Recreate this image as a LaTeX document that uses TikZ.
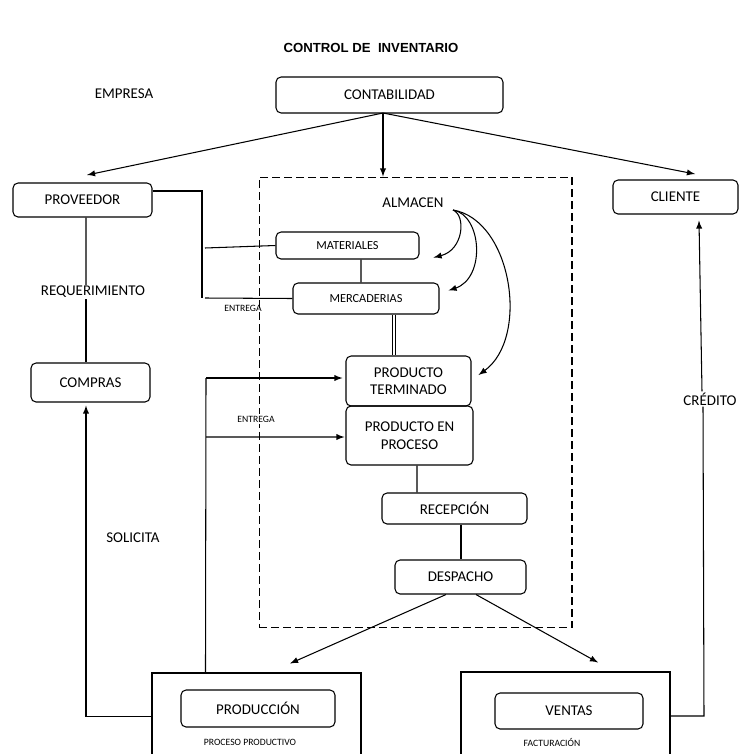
\documentclass[tikz,border=0pt]{standalone}
\usepackage{fontspec}
\setmainfont{Carlito}
\newfontfamily\titlefont{Liberation Sans}
\usetikzlibrary{calc}

\begin{document}
\begin{tikzpicture}[x=0.02cm,y=-0.02cm,line width=0.6pt,>=latex,
    box/.style={draw,rounded corners=1mm,inner sep=0pt,align=center,font=\fontsize{8.5}{10}\selectfont},
    smallbox/.style={box,font=\fontsize{7}{8}\selectfont},
    area/.style={draw,inner sep=0pt},
    lbl/.style={inner sep=1pt,font=\fontsize{8.5}{10}\selectfont},
    tiny/.style={inner sep=1pt,font=\fontsize{5.5}{6}\selectfont}]

\useasboundingbox (0,0) rectangle (740,754);
\clip (0,0) rectangle (740,754);

% titulo y textos sueltos
  \node (title) at (371,48) {\titlefont\bfseries\fontsize{7.5}{9}\selectfont CONTROL DE~ INVENTARIO};
  \node[lbl] (empresa) at (124,94) {EMPRESA};

% cajas
  \node[box,minimum width=45.4mm,minimum height=7.2mm] (conta) at (389.5,95) {CONTABILIDAD};
  \node[box,minimum width=27.8mm,minimum height=6.8mm] (prov) at (82.5,200) {PROVEEDOR};
  \node[box,minimum width=25mm,minimum height=6.8mm] (cliente) at (675.5,197) {CLIENTE};
  \node[box,minimum width=23.8mm,minimum height=7.8mm] (compras) at (90.5,382.5) {COMPRAS};
  \node[area,dashed,dash pattern=on 1.6mm off 0.8mm,minimum width=62.6mm,minimum height=90.2mm] (alm) at (415.5,402.5) {};
  \node[lbl] (almt) at (413,203) {ALMACEN};
  \node[smallbox,minimum width=28.6mm,minimum height=5.4mm] (mat) at (347.5,245.5) {MATERIALES};
  \node[smallbox,minimum width=29.2mm,minimum height=6.2mm] (merc) at (366,298.5) {MERCADERIAS};
  \node[box,minimum width=25mm,minimum height=10mm] (pterm) at (408.5,381) {PRODUCTO\\TERMINADO};
  \node[box,minimum width=25.4mm,minimum height=11.8mm] (pproc) at (409.5,435.5) {PRODUCTO EN\\PROCESO};
  \node[box,minimum width=29mm,minimum height=6.2mm] (recep) at (454.5,508.5) {RECEPCIÓN};
  \node[box,minimum width=26.2mm,minimum height=6.8mm] (desp) at (460.5,577) {DESPACHO};
  \node[area,minimum width=41.8mm,minimum height=25.4mm] (prodarea) at (256.5,736.5) {};
  \node[area,minimum width=41.8mm,minimum height=25.6mm] (ventarea) at (565.5,736) {};
  \node[box,minimum width=30.8mm,minimum height=7.4mm] (prod) at (258,708.5) {PRODUCCIÓN};
  \node[box,minimum width=29.6mm,minimum height=7.2mm] (ventas) at (569,711) {VENTAS};
  \node[tiny] (proceso) at (250,742) {PROCESO PRODUCTIVO};
  \node[tiny] (fact) at (552,742) {FACTURACIÓN};

% contabilidad
  \coordinate (cs) at (383,113); \coordinate (provtip) at (87,175); \coordinate (clitip) at (695,174);
  \draw[->] (cs) -- (provtip);  \draw[->] (cs) -- (cs |- alm.north);  \draw[->] (cs) -- (clitip);

% proveedor - almacen
  \coordinate (tj) at (202,298);
  \draw ($(prov.east)+(0,-9)$) -| (tj);
  \draw (205,248) -- (mat.west);  \draw (205,298) -- (merc.west);
  \node[tiny] (entrega1) at (243,308) {ENTREGA};
  \draw ($(mat.south)+(13.5,0)$) -- ($(merc.north)+(-5,0)$);
  \draw[double,double distance=1.2pt,line width=0.5pt] ($(merc.south)+(28,0)$) -- ($(pterm.north)+(-14.5,0)$);

% almacen
  \coordinate (a0) at (453,210);
  \draw[->] (a0) .. controls (466,215) and (464,250) .. ($(mat.east)+(14,12)$);
  \draw[->] (a0) .. controls (482,215) and (486,278) .. ($(merc.east)+(9,-8)$);
  \draw[->] (a0) .. controls (512,220) and (530,338) .. ($(pterm.east)+(7,-6)$);
  \draw ($(pproc.south)+(7.5,0)$) -- ($(recep.north)+(-37.5,0)$);
  \draw ($(recep.south)+(6.5,0)$) -- ($(desp.north)+(0.5,0)$);
  \draw[->] ($(desp.south)+(-14.5,0)$) -- ($(prodarea.north)+(33.5,-9)$);
  \draw[->] ($(desp.south)+(15.5,0)$) -- ($(ventarea.north)+(32.5,-9)$);

% proveedor - compras - produccion
  \node[lbl,fill=white,inner sep=0.5pt] (req) at (93,292) {REQUERIMIENTO};
  \draw ($(prov.south)+(3.5,0)$) -- (req.north -| 86,0);  \draw (req.south -| 86,0) -- ($(compras.north)+(-4.5,0)$);
  \draw[->] ($(prodarea.north west)+(0,44)$) -| ($(compras.south)+(-4.5,3)$);
  \node[lbl] (solicita) at (133,538) {SOLICITA};

% produccion - almacen
  \coordinate (pj) at (206,378);
  \draw ($(prodarea.north west)+(54,0)$) -- (pj);
  \draw[->] (pj) -- ($(pterm.west)+(-3,-3)$);
  \draw[->] (206,437) -- ($(pproc.west)+(-1,1.5)$);
  \node[tiny,fill=white] (entrega2) at (256,419) {ENTREGA};

% ventas - cliente
  \coordinate (vc) at (704,716);
  \node[lbl,fill=white,inner sep=0.5pt] (credito) at (710,399) {CRÉDITO};
  \draw ($(ventarea.east)+(0,-20)$) -- (vc) -- (credito.south -| 703,0);
  \draw[->] (credito.north -| 702,0) -- ($(cliente.south)+(23.5,6)$);

\end{tikzpicture}
\end{document}
